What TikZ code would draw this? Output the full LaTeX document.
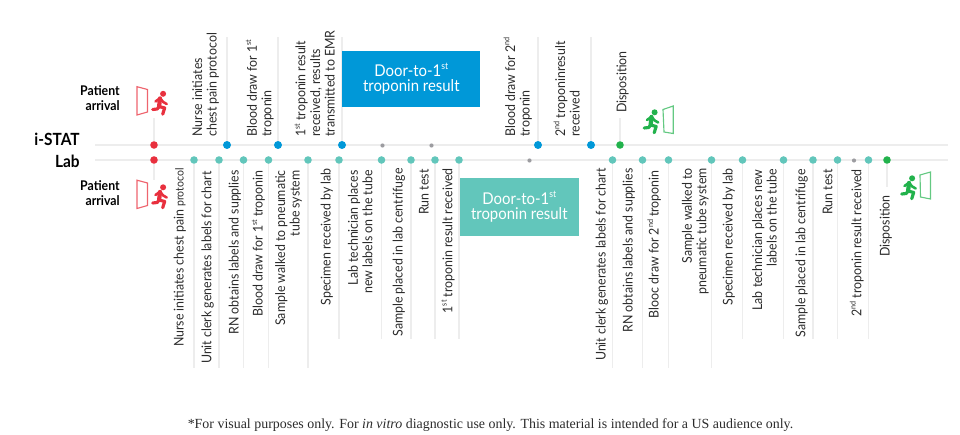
\documentclass[tikz,border=0pt]{standalone}
\usepackage{fontspec}
\setmainfont{Lato}[FakeStretch=0.92]
\newfontfamily\notefont{Liberation Serif}
\usetikzlibrary{positioning}

\definecolor{rulegray}{HTML}{EDEDED}
\definecolor{dotgray}{HTML}{9C9CA0}
\definecolor{istatblue}{HTML}{0098D8}
\definecolor{labteal}{HTML}{62C6BB}
\definecolor{arrivalred}{HTML}{E8303E}
\definecolor{dispogreen}{HTML}{22B24C}
\definecolor{textdark}{HTML}{2B2B2B}

\newcommand{\ord}[2]{#1\raisebox{0.42em}{\fontsize{0.58em}{0.6em}\selectfont #2}}

% running figure, origin at the top left corner of its box
\newcommand{\runner}[3]{
\begin{scope}[shift={(#1,#2)}, #3, line width=1.45pt, line cap=round, line join=round]
\fill (11.4,2.8) circle (3);
\draw [line width=2.4pt] (8.3,7.4) -- (7.4,15.5);
\draw (8.3,7.2) -- (3.8,10.5);
\draw (8.3,7.2) -- (11.5,11) -- (15,13);
\draw [line width=1.8pt] (7.4,15.5) -- (13,17) -- (11,23.2);
\draw [line width=1.8pt] (7.4,15.5) -- (5.5,18) -- (1,18.5);
\end{scope}
}

\tikzset{
  rule/.style={rulegray, line width=1pt},
  stem/.style={rulegray, line width=1pt},
  bluedot/.style={circle, fill=istatblue, inner sep=0, minimum size=8*0.5669pt},
  tealdot/.style={circle, fill=labteal, inner sep=0, minimum size=7.6*0.5669pt},
  reddot/.style={circle, fill=arrivalred, inner sep=0, minimum size=7.6*0.5669pt},
  greendot/.style={circle, fill=dispogreen, inner sep=0, minimum size=7.6*0.5669pt},
  graydot/.style={circle, fill=dotgray, inner sep=0, minimum size=4.2*0.5669pt},
  toplabel/.style={rotate=90, anchor=south west, inner sep=0, text depth=0pt, align=left, text=textdark, font=\fontsize{7.65pt}{8.3pt}\selectfont},
  lowlabel/.style={rotate=90, anchor=south east, inner sep=0, text depth=0pt, align=right, text=textdark, font=\fontsize{7.65pt}{8.3pt}\selectfont},
  rowname/.style={anchor=base east, inner sep=0, text=black, font=\fontsize{9.55pt}{11pt}\selectfont\bfseries},
  arrivalname/.style={anchor=base east, inner sep=0, align=right, text=black, font=\fontsize{7.6pt}{8.3pt}\selectfont\bfseries},
  bluebox/.style={fill=istatblue, text=white, minimum width=138.5*0.5669pt, minimum height=56*0.5669pt, inner sep=0, align=center, font=\fontsize{9.24pt}{8.5pt}\selectfont},
  tealbox/.style={fill=labteal, text=white, minimum width=120*0.5669pt, minimum height=57.5*0.5669pt, inner sep=0, align=center, font=\fontsize{9.24pt}{8.5pt}\selectfont},
  door/.style={line width=0.65pt}
}

\begin{document}
\begin{tikzpicture}[x=0.02cm, y=-0.02cm]
\useasboundingbox (0,0) rectangle (960,435);

% end points
\coordinate (railstart) at (95,0);
\coordinate (railend) at (948,0);
\coordinate (toplevel) at (0,37);
\coordinate (longlevel) at (0,368);
\coordinate (shortlevel) at (0,339);

\coordinate (istatrow) at (0,145);
\coordinate (labrow) at (0,160);
\draw [rule] (railstart |- istatrow) -- (railend |- istatrow);
\draw [rule] (railstart |- labrow) -- (railend |- labrow);

% i-STAT row
\node (iArrive) at (154,145) [reddot] {};
\node (iNurse) at (227,145) [bluedot] {};
\node (iDraw) at (278,145) [bluedot] {};
\node (iResult) at (342,145) [bluedot] {};
\node (iGrayA) at (382.5,145.5) [graydot] {};
\node (iGrayB) at (431.5,145.5) [graydot] {};
\node (iDrawTwo) at (538,145) [bluedot] {};
\node (iResultTwo) at (591,145) [bluedot] {};
\node (iDispo) at (620,145) [greendot] {};

% lab row
\node (lArrive) at (154,160) [reddot] {};
\node (lNurse) at (194,160) [tealdot] {};
\node (lClerk) at (219,160) [tealdot] {};
\node (lSupply) at (243.5,160) [tealdot] {};
\node (lDraw) at (268.5,160) [tealdot] {};
\node (lWalk) at (308,160) [tealdot] {};
\node (lSpec) at (339,160) [tealdot] {};
\node (lTech) at (381.5,160) [tealdot] {};
\node (lSpin) at (411,160) [tealdot] {};
\node (lRun) at (435,160) [tealdot] {};
\node (lResult) at (459,160) [tealdot] {};
\node (lGray) at (529.5,160.5) [graydot] {};
\node (lClerkTwo) at (612.5,160) [tealdot] {};
\node (lSupplyTwo) at (642.5,160) [tealdot] {};
\node (lDrawTwo) at (668.5,160) [tealdot] {};
\node (lWalkTwo) at (711.5,160) [tealdot] {};
\node (lSpecTwo) at (742.5,160) [tealdot] {};
\node (lTechTwo) at (783.5,160) [tealdot] {};
\node (lSpinTwo) at (813,160) [tealdot] {};
\node (lRunTwo) at (837.5,160) [tealdot] {};
\node (lGrayTwo) at (854,160.5) [graydot] {};
\node (lResultTwo) at (868.5,160) [tealdot] {};
\node (lDispo) at (887,160) [greendot] {};

% stems up
\coordinate (arriveup) at (154,118);
\coordinate (dispoup) at (620,118);
\draw [stem] (iArrive) -- (arriveup);
\draw [stem] (iNurse) -- (iNurse |- toplevel);
\draw [stem] (iDraw) -- (iDraw |- toplevel);
\draw [stem] (iResult) -- (iResult |- toplevel);
\draw [stem] (iDrawTwo) -- (iDrawTwo |- toplevel);
\draw [stem] (iResultTwo) -- (iResultTwo |- toplevel);
\draw [stem] (iDispo) -- (dispoup);

% stems down
\coordinate (arrivedown) at (154,180);
\coordinate (dispodown) at (887,187);
\draw [stem] (lArrive) -- (arrivedown);
\draw [stem] (lNurse) -- (lNurse |- longlevel);
\draw [stem] (lClerk) -- (lClerk |- longlevel);
\draw [stem] (lSupply) -- (lSupply |- longlevel);
\draw [stem] (lDraw) -- (lDraw |- longlevel);
\draw [stem] (lWalk) -- (lWalk |- longlevel);
\draw [stem] (lSpec) -- (lSpec |- shortlevel);
\draw [stem] (lTech) -- (lTech |- shortlevel);
\draw [stem] (lSpin) -- (lSpin |- shortlevel);
\draw [stem] (lRun) -- (lRun |- shortlevel);
\draw [stem] (lResult) -- (lResult |- shortlevel);
\draw [stem] (lClerkTwo) -- (lClerkTwo |- longlevel);
\draw [stem] (lSupplyTwo) -- (lSupplyTwo |- longlevel);
\draw [stem] (lDrawTwo) -- (lDrawTwo |- longlevel);
\draw [stem] (lWalkTwo) -- (lWalkTwo |- longlevel);
\draw [stem] (lSpecTwo) -- (lSpecTwo |- shortlevel);
\draw [stem] (lTechTwo) -- (lTechTwo |- shortlevel);
\draw [stem] (lSpinTwo) -- (lSpinTwo |- shortlevel);
\draw [stem] (lRunTwo) -- (lRunTwo |- shortlevel);
\draw [stem] (lResultTwo) -- (lResultTwo |- shortlevel);
\draw [stem] (lDispo) -- (dispodown);

% boxes
\node (blueresult) at (411.3,79) [bluebox] {Door-to-\ord{1}{st}\\troponin result};
\node (tealresult) at (519.3,207) [tealbox] {Door-to-\ord{1}{st}\\troponin result};

% row names
\node (istatname) at (80,145.5) [rowname] {i-STAT};
\node (labname) at (80,167.5) [rowname] {Lab};
\node (arrivaltop) at (120,110.5) [arrivalname] {Patient\\arrival};
\node (arrivallow) at (120,205.5) [arrivalname] {Patient\\arrival};

% labels above
\node (tNurse) at (217,137) [toplabel] {Nurse initiates\\chest pain protocol};
\node (tDraw) at (271.7,137) [toplabel] {Blood draw for \ord{1}{st}\\troponin};
\node (tResult) at (335,137) [toplabel] {\ord{1}{st} troponin result\\received, results\\transmitted to EMR};
\node (tDrawTwo) at (530,137) [toplabel] {Blood draw for \ord{2}{nd}\\troponin};
\node (tResultTwo) at (580,137) [toplabel] {\ord{2}{nd} troponinresult\\received};
\node (tDispo) at (626.7,113) [toplabel] {Disposition};

% labels below
\node (bNurse) at (184,168) [lowlabel] {Nurse initiates chest pain {\fontsize{6.5pt}{8pt}\selectfont protocol}};
\node (bClerk) at (211.7,171) [lowlabel] {Unit clerk generates labels for chart};
\node (bSupply) at (239,170) [lowlabel] {RN obtains labels and supplies};
\node (bDraw) at (263,170) [lowlabel] {Blood draw for \ord{1}{st} troponin};
\node (bWalk) at (300,170) [lowlabel] {Sample walked to pneumatic\\tube system};
\node (bSpec) at (331,168) [lowlabel] {Specimen received by lab};
\node (bTech) at (372.7,170) [lowlabel] {Lab technician places\\new labels on the tube};
\node (bSpin) at (403,168) [lowlabel] {Sample placed in lab centrifuge};
\node (bRun) at (429,169) [lowlabel] {Run test};
\node (bResult) at (452.7,168) [lowlabel] {\ord{1}{st} troponin result received};
\node (bClerkTwo) at (606,168) [lowlabel] {Unit clerk generates labels for chart};
\node (bSupplyTwo) at (633,168) [lowlabel] {RN obtains labels and supplies};
\node (bDrawTwo) at (659,170) [lowlabel] {Blooc draw for \ord{2}{nd} troponin};
\node (bWalkTwo) at (706.7,168) [lowlabel] {Sample walked to\\pneumatic tube system};
\node (bSpecTwo) at (733,168) [lowlabel] {Specimen received by lab};
\node (bTechTwo) at (777,169) [lowlabel] {Lab technician places new\\labels on the tube};
\node (bSpinTwo) at (805.7,169) [lowlabel] {Sample placed in lab centrifuge};
\node (bRunTwo) at (832.7,169) [lowlabel] {Run test};
\node (bResultTwo) at (861.7,169) [lowlabel] {\ord{2}{nd} troponin result received};
\node (bDispo) at (890,195) [lowlabel] {Disposition};

% doors
\draw [door, arrivalred!75] (137,86.7) -- (147.5,89.5) -- (147.5,112) -- (137,115) -- cycle;
\draw [door, arrivalred!75] (137,180.2) -- (147.5,183) -- (147.5,205.5) -- (137,208.5) -- cycle;
\draw [door, dispogreen!70] (663,109.5) -- (673.2,106) -- (673.2,133.5) -- (664,132) -- cycle;
\draw [door, dispogreen!70] (920,175) -- (930.5,172) -- (930.5,199) -- (920.5,197) -- cycle;

% runners
\runner{151.7}{91}{arrivalred}
\runner{151.7}{184.5}{arrivalred}
\runner{643.2}{109.5}{dispogreen}
\runner{900.7}{175.5}{dispogreen}

% note
\node (note) at (490.5,428) [anchor=base, inner sep=0, text=textdark, font=\notefont\fontsize{7.93pt}{9pt}\selectfont] {*For visual purposes only. For \textit{in vitro} diagnostic use only. This material is intended for a US audience only.};
\end{tikzpicture}
\end{document}
